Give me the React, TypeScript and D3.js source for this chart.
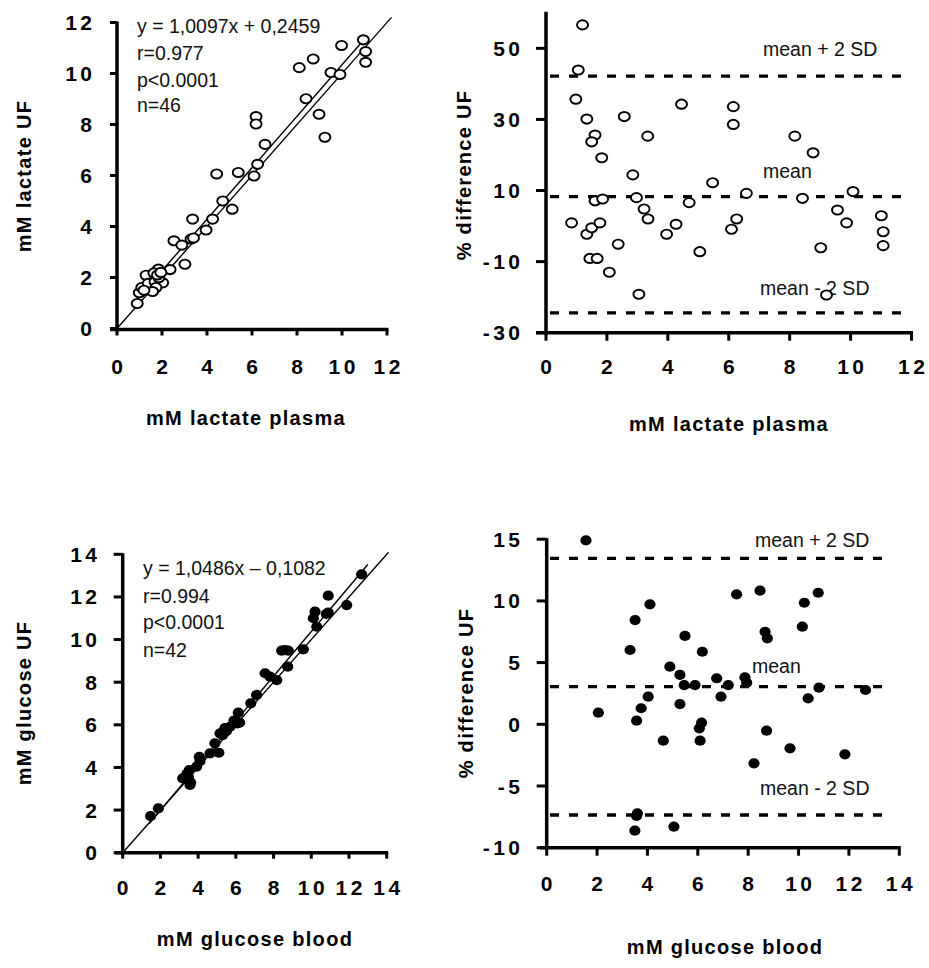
import React from 'react';
import * as d3 from 'd3';

// ---------- DATA ----------
const lactatePlasma = [10.95, 9.98, 11.05, 11.05, 8.72, 8.1, 9.51, 9.91, 8.4, 8.98, 9.24, 6.18, 6.18, 6.58, 6.25, 4.43, 5.39, 6.09, 4.7, 5.12, 3.36, 4.25, 3.96, 2.53, 3.29, 2.88, 3.02, 2.36, 1.84, 1.29, 0.9, 0.99, 1.1, 1.47, 1.54, 1.39, 1.69, 2.03, 1.73, 1.64, 1.86, 1.58, 1.2, 3.4, 1.8, 1.95];
const lactateUF = [11.32, 11.1, 10.86, 10.44, 10.57, 10.23, 10.04, 9.96, 9.01, 8.4, 7.5, 8.31, 8.02, 7.22, 6.44, 6.06, 6.12, 5.98, 5.0, 4.68, 4.29, 4.29, 3.86, 3.44, 3.51, 3.27, 2.52, 2.31, 2.33, 2.09, 0.98, 1.4, 1.61, 1.5, 1.61, 1.77, 1.83, 1.79, 1.61, 2.18, 1.99, 1.45, 1.5, 3.55, 2.1, 2.2];

const lactateDiffPlasma = [1.2, 1.06, 0.98, 1.34, 2.57, 4.45, 6.15, 6.15, 1.61, 1.5, 3.34, 1.83, 8.17, 8.77, 2.85, 5.47, 0.84, 1.34, 1.5, 1.77, 1.61, 1.86, 1.44, 1.68, 2.08, 2.37, 2.97, 3.22, 3.35, 3.05, 3.96, 4.27, 4.7, 5.05, 6.09, 6.26, 6.58, 8.42, 9.02, 9.21, 9.57, 9.87, 10.08, 11.01, 11.07, 11.07];
const lactateDiffPct = [56.6, 43.9, 35.7, 30.1, 30.8, 34.3, 33.6, 28.6, 25.6, 23.7, 25.3, 19.2, 25.3, 20.6, 14.4, 12.2, 0.9, -2.3, -0.5, 0.9, 7.1, 7.6, -9.1, -9.1, -13.0, -5.1, 8.0, 4.8, 2.0, -19.2, -2.3, 0.5, 6.6, -7.2, -0.9, 2.0, 9.2, 7.8, -6.1, -19.4, 4.5, 0.9, 9.7, 2.9, -1.6, -5.5];

const glucoseBlood = [12.67, 10.9, 11.88, 10.9, 10.2, 10.11, 10.29, 9.58, 8.43, 8.78, 8.75, 7.55, 8.17, 7.81, 7.1, 6.79, 6.13, 6.08, 5.69, 5.42, 5.3, 5.16, 4.89, 5.1, 4.63, 4.06, 3.92, 3.53, 3.48, 3.18, 3.57, 1.48, 1.89, 3.6, 3.4, 4.1, 5.9, 6.2, 5.5, 8.6, 10.8, 3.5];
const glucoseUF = [13.06, 12.06, 11.62, 11.26, 11.31, 11.0, 10.6, 9.54, 9.48, 9.48, 8.73, 8.42, 8.1, 8.26, 7.4, 7.01, 6.57, 6.07, 5.91, 5.84, 5.52, 5.6, 5.13, 4.69, 4.66, 4.5, 4.04, 3.88, 3.57, 3.49, 3.18, 1.72, 2.08, 3.3, 3.7, 4.3, 6.2, 6.1, 5.7, 9.5, 11.2, 3.4];

const glucoseDiffBlood = [1.56, 3.31, 3.51, 4.1, 5.49, 6.18, 4.89, 5.29, 5.46, 5.89, 6.75, 7.21, 7.54, 8.47, 8.67, 8.76, 7.87, 7.94, 10.15, 10.23, 10.78, 10.81, 10.38, 12.66, 6.92, 4.03, 5.29, 3.75, 2.05, 3.57, 4.63, 6.15, 6.06, 6.09, 8.23, 8.73, 9.66, 11.84, 3.57, 3.6, 3.5, 5.05];
const glucoseDiffPct = [14.9, 6.02, 8.45, 9.72, 7.16, 5.88, 4.67, 4.0, 3.18, 3.18, 3.73, 3.18, 10.53, 10.83, 7.5, 6.97, 3.81, 3.37, 7.91, 9.85, 10.66, 2.97, 2.1, 2.78, 2.24, 2.24, 1.64, 1.3, 0.94, 0.29, -1.33, 0.13, -0.33, -1.33, -3.16, -0.52, -1.95, -2.43, -7.43, -7.21, -8.62, -8.3];

const lactateTicks = [0, 2, 4, 6, 8, 10, 12];
const lactateDiffTicks = [-30, -10, 10, 30, 50];
const glucoseTicks = [0, 2, 4, 6, 8, 10, 12, 14];
const glucoseDiffTicks = [-10, -5, 0, 5, 10, 15];

const lactateFit = { slope: 1.0097, intercept: 0.2459, from: 0.9, to: 11.1 };
const glucoseFit = { slope: 1.0486, intercept: -0.1082, from: 1.4, to: 13.0 };
const lactateStats = ['y = 1,0097x + 0,2459', 'r=0.977', 'p<0.0001', 'n=46'];
const glucoseStats = ['y = 1,0486x \u2013 0,1082', 'r=0.994', 'p<0.0001', 'n=42'];
const lactateLimits = [42.2, 8.3, -24.4];
const glucoseLimits = [13.45, 3.05, -7.35];
const limitLabels = ['mean + 2 SD', 'mean', 'mean - 2 SD'];

// ---------- STYLE ----------
const FONT = "'Liberation Sans', Arial, Helvetica, sans-serif";
const BOLD = { fontFamily: FONT, fontWeight: 700 } as const;
const TICK_FS = 21;
const TICK_LS = 3.5;

type AxisCfg = {
  x: d3.ScaleLinear<number, number>;
  y: d3.ScaleLinear<number, number>;
  xTicks: number[];
  yTicks: number[];
  xLeft: number;
  yBottom: number;
  yTickLen: number;
  xTickLen: number;
  yLabelRight: number;
  xLabelBase: number;
  xTitle: string;
  xTitleX: number;
  xTitleY: number;
  yTitle: string;
  yTitleX: number;
  yTitleY: number;
};

function Axes(c: AxisCfg) {
  const [x0, x1] = c.x.range();
  const [y0, y1] = c.y.range();
  return (
    <g>
      <line x1={x0} x2={x0} y1={Math.min(y0, y1) - 1} y2={c.yBottom + 2} stroke="#000" strokeWidth={3.5} />
      <line x1={c.xLeft} x2={x1 + 1.5} y1={c.yBottom} y2={c.yBottom} stroke="#000" strokeWidth={3.5} />
      {c.yTicks.map((t) => (
        <g key={'y' + t}>
          <line x1={x0 - c.yTickLen} x2={x0} y1={c.y(t)} y2={c.y(t)} stroke="#000" strokeWidth={3} />
          <text x={c.yLabelRight + TICK_LS} y={c.y(t)} dy="0.36em" textAnchor="end" fontSize={TICK_FS} letterSpacing={TICK_LS} style={BOLD}>
            {t}
          </text>
        </g>
      ))}
      {c.xTicks.map((t) => (
        <g key={'x' + t}>
          <line x1={c.x(t)} x2={c.x(t)} y1={c.yBottom} y2={c.yBottom + c.xTickLen} stroke="#000" strokeWidth={3} />
          <text x={c.x(t) + TICK_LS / 2} y={c.xLabelBase} textAnchor="middle" fontSize={TICK_FS} letterSpacing={TICK_LS} style={BOLD}>
            {t}
          </text>
        </g>
      ))}
      <text x={c.xTitleX} y={c.xTitleY} textAnchor="middle" fontSize={20} letterSpacing={1.3} style={BOLD}>
        {c.xTitle}
      </text>
      <text
        transform={`translate(${c.yTitleX},${c.yTitleY}) rotate(-90)`}
        textAnchor="middle"
        dy="0.36em"
        fontSize={20}
        letterSpacing={1.3}
        style={BOLD}
      >
        {c.yTitle}
      </text>
    </g>
  );
}

function Stats({ lines, x, ys }: { lines: string[]; x: number; ys: number[] }) {
  return (
    <g>
      {lines.map((l, i) => (
        <text key={l} x={x} y={ys[i]} fontSize={19.5} fontFamily={FONT} fill="#111">
          {l}
        </text>
      ))}
    </g>
  );
}

function Limits({
  y,
  values,
  from,
  to,
  labelPos,
}: {
  y: d3.ScaleLinear<number, number>;
  values: number[];
  from: number;
  to: number;
  labelPos: [number, number][];
}) {
  return (
    <g>
      {values.map((v, i) => (
        <g key={i}>
          <line x1={from} x2={to} y1={y(v)} y2={y(v)} stroke="#000" strokeWidth={3.3} strokeDasharray="9,10" />
          <text x={labelPos[i][0]} y={labelPos[i][1]} fontSize={19.5} fontFamily={FONT} fill="#111">
            {limitLabels[i]}
          </text>
        </g>
      ))}
    </g>
  );
}

export default function App() {
  // Panel 1: lactate correlation
  const x1 = d3.scaleLinear().domain([0, 12]).range([117, 387]);
  const y1 = d3.scaleLinear().domain([0, 12]).range([328.5, 22.5]);
  // Panel 2: lactate difference
  const x2 = d3.scaleLinear().domain([0, 12]).range([546, 911.5]);
  const y2 = d3.scaleLinear().domain([-30, 60]).range([332.7, 12.8]);
  // Panel 3: glucose correlation
  const x3 = d3.scaleLinear().domain([0, 14]).range([122.7, 386.7]);
  const y3 = d3.scaleLinear().domain([0, 14]).range([852.7, 554.3]);
  // Panel 4: glucose difference
  const x4 = d3.scaleLinear().domain([0, 14]).range([546.7, 899.3]);
  const y4 = d3.scaleLinear().domain([-10, 15]).range([847.7, 539.2]);

  const lineGen = (xs: d3.ScaleLinear<number, number>, ys: d3.ScaleLinear<number, number>) =>
    d3
      .line<[number, number]>()
      .x((d) => xs(d[0]))
      .y((d) => ys(d[1]));

  const fitPts = (f: typeof lactateFit): [number, number][] => [
    [f.from, f.slope * f.from + f.intercept],
    [f.to, f.slope * f.to + f.intercept],
  ];

  return (
    <svg
      width={929}
      height={968}
      viewBox="0 0 929 968"
      style={{ position: 'absolute', left: 0, top: 0, background: '#fff', display: 'block' }}
    >
      <rect width={929} height={968} fill="#fff" />

      {/* Panel 1 */}
      <path d={lineGen(x1, y1)([[0, 0], [12.2, 12.2]]) || ''} stroke="#000" strokeWidth={1.4} fill="none" />
      <path d={lineGen(x1, y1)(fitPts(lactateFit)) || ''} stroke="#000" strokeWidth={1.4} fill="none" />
      {lactatePlasma.map((v, i) => (
        <ellipse key={i} cx={x1(v)} cy={y1(lactateUF[i])} rx={5.5} ry={4.6} fill="#fff" stroke="#000" strokeWidth={1.9} />
      ))}
      <Axes
        x={x1}
        y={y1}
        xTicks={lactateTicks}
        yTicks={lactateTicks}
        xLeft={110}
        yBottom={329.5}
        yTickLen={7}
        xTickLen={6}
        yLabelRight={92}
        xLabelBase={374}
        xTitle="mM lactate plasma"
        xTitleX={246}
        xTitleY={425}
        yTitle="mM lactate UF"
        yTitleX={24}
        yTitleY={176}
      />
      <Stats lines={lactateStats} x={137} ys={[33, 60, 87, 112]} />

      {/* Panel 2 */}
      <Limits
        y={y2}
        values={lactateLimits}
        from={550}
        to={911}
        labelPos={[
          [763, 56],
          [763, 178],
          [760, 295],
        ]}
      />
      {lactateDiffPlasma.map((v, i) => (
        <ellipse key={i} cx={x2(v)} cy={y2(lactateDiffPct[i])} rx={5.5} ry={4.6} fill="#fff" stroke="#000" strokeWidth={1.9} />
      ))}
      <Axes
        x={x2}
        y={y2}
        xTicks={lactateTicks}
        yTicks={lactateDiffTicks}
        xLeft={536}
        yBottom={332.7}
        yTickLen={10}
        xTickLen={8}
        yLabelRight={520}
        xLabelBase={374}
        xTitle="mM lactate plasma"
        xTitleX={729}
        xTitleY={431}
        yTitle="% difference UF"
        yTitleX={464}
        yTitleY={175}
      />

      {/* Panel 3 */}
      <path d={lineGen(x3, y3)([[0, 0], [14.1, 14.1]]) || ''} stroke="#000" strokeWidth={1.4} fill="none" />
      <path d={lineGen(x3, y3)(fitPts(glucoseFit)) || ''} stroke="#000" strokeWidth={1.4} fill="none" />
      {glucoseBlood.map((v, i) => (
        <ellipse key={i} cx={x3(v)} cy={y3(glucoseUF[i])} rx={5.6} ry={5.1} fill="#000" />
      ))}
      <Axes
        x={x3}
        y={y3}
        xTicks={glucoseTicks}
        yTicks={glucoseTicks}
        xLeft={115}
        yBottom={852.7}
        yTickLen={9}
        xTickLen={6}
        yLabelRight={97}
        xLabelBase={895}
        xTitle="mM glucose blood"
        xTitleX={255}
        xTitleY={946}
        yTitle="mM glucose UF"
        yTitleX={24}
        yTitleY={703}
      />
      <Stats lines={glucoseStats} x={143} ys={[575, 603, 629, 657]} />

      {/* Panel 4 */}
      <Limits
        y={y4}
        values={glucoseLimits}
        from={550}
        to={889}
        labelPos={[
          [755, 547],
          [752, 673],
          [760, 795],
        ]}
      />
      {glucoseDiffBlood.map((v, i) => (
        <ellipse key={i} cx={x4(v)} cy={y4(glucoseDiffPct[i])} rx={5.6} ry={5.1} fill="#000" />
      ))}
      <Axes
        x={x4}
        y={y4}
        xTicks={glucoseTicks}
        yTicks={glucoseDiffTicks}
        xLeft={540}
        yBottom={847.7}
        yTickLen={10}
        xTickLen={8}
        yLabelRight={520}
        xLabelBase={891}
        xTitle="mM glucose blood"
        xTitleX={725}
        xTitleY={954}
        yTitle="% difference UF"
        yTitleX={466}
        yTitleY={693}
      />
    </svg>
  );
}
